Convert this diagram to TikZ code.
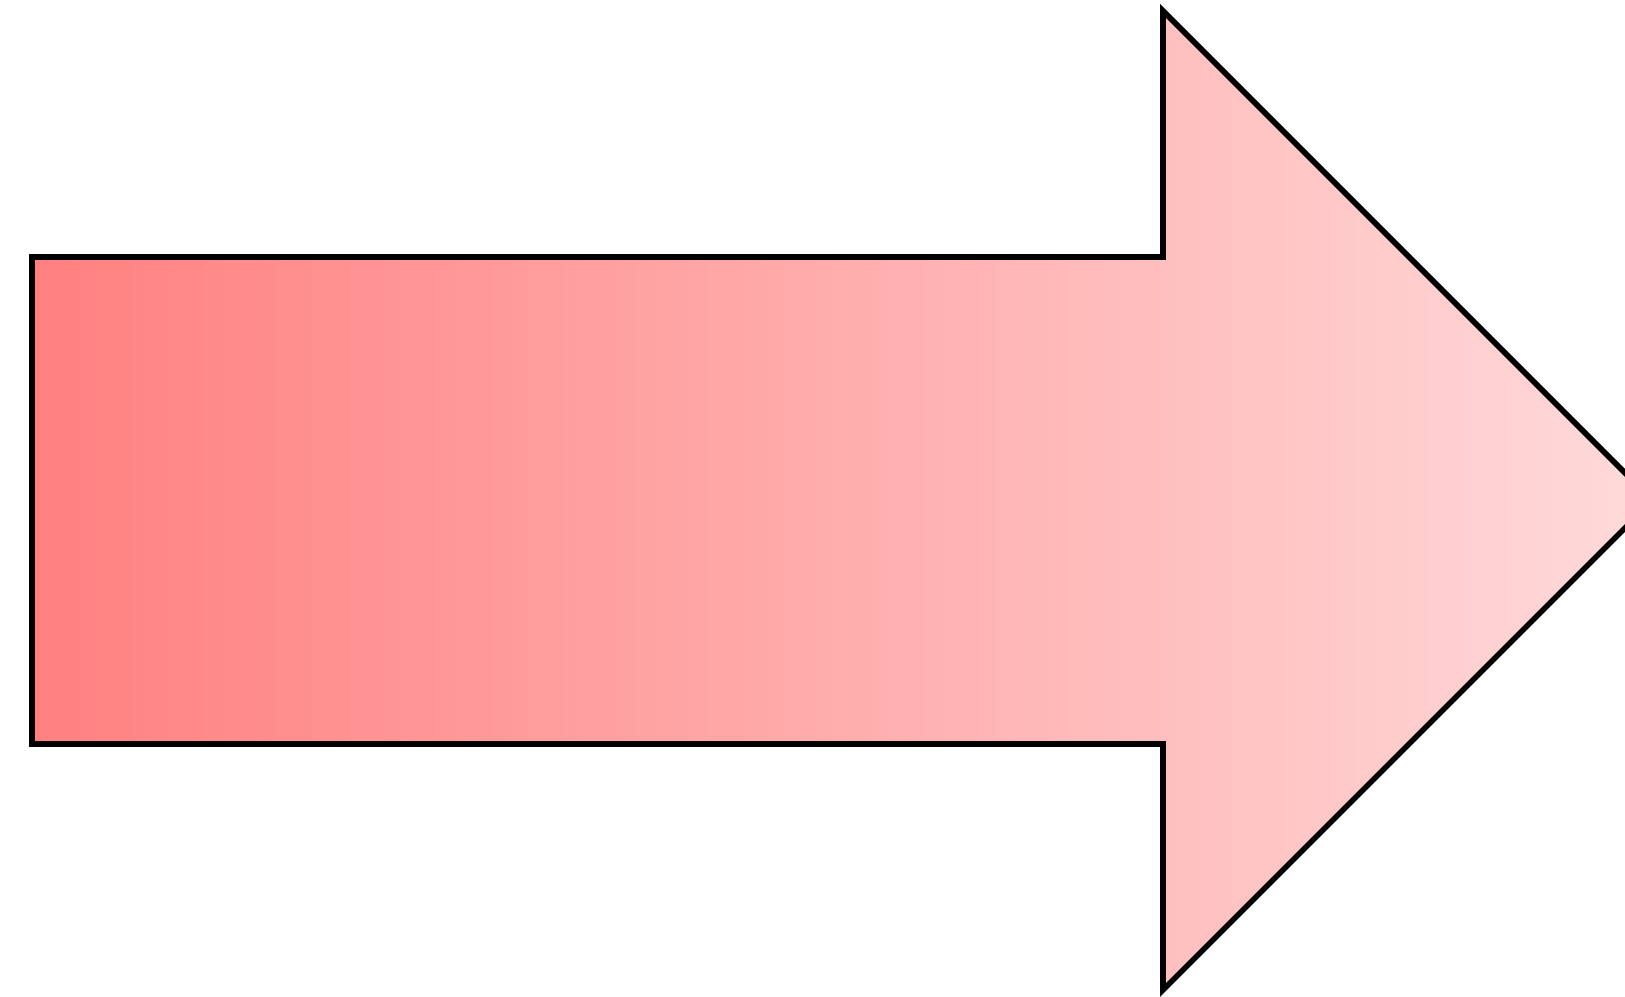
\documentclass[tikz,border=0pt]{standalone}
\usepackage{tikz}
\usetikzlibrary{calc}

\definecolor{arrowleft}{HTML}{FF8080}
\definecolor{arrowright}{HTML}{FFDADA}

\begin{document}
\begin{tikzpicture}[
  bigarrow/.style={draw=black, line width=1.6pt, line join=miter,
    left color=arrowleft, right color=arrowright}
]
\useasboundingbox (0,0) rectangle (16.25,9.97);
\clip (0,0) rectangle (16.25,9.97);

% --- outline points ---
\coordinate (tl)   at (0.32,7.40);
\coordinate (bl)   at (0.32,2.53);
\coordinate (nt)   at (11.63,7.40);
\coordinate (nb)   at (11.63,2.53);
\coordinate (ht)   at (11.63,9.86);
\coordinate (hb)   at (11.63,0.07);
\coordinate (tip)  at (16.525,4.965);

% --- arrow ---
\shadedraw[bigarrow]
  (tl) -- (nt) -- (ht) -- (tip) -- (hb) -- (nb) -- (bl) -- cycle;

\end{tikzpicture}
\end{document}
